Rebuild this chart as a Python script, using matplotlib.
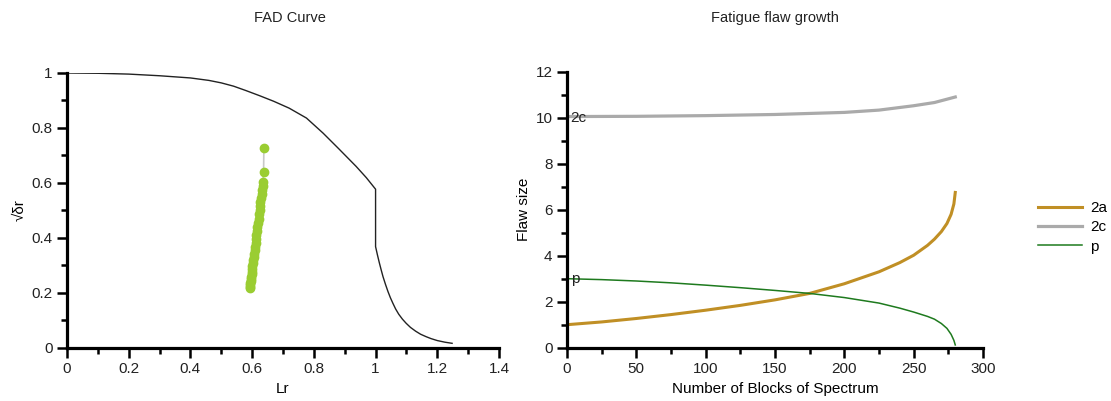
import matplotlib
matplotlib.use("Agg")
import matplotlib.pyplot as plt
from matplotlib.ticker import MultipleLocator

plt.rcParams['font.family'] = ['Liberation Sans', 'DejaVu Sans']

# FAD curve
fad_lr = [0, 0.1, 0.2, 0.3, 0.4, 0.46, 0.5, 0.54, 0.58, 0.625, 0.67, 0.72, 0.776, 0.83, 0.88, 0.937, 0.97, 1.0,
          1.0, 1.006, 1.012, 1.018, 1.024, 1.032, 1.04, 1.048, 1.056, 1.065, 1.075, 1.087, 1.099, 1.113,
          1.13, 1.146, 1.164, 1.18, 1.2, 1.225, 1.248]
fad_kr = [1.0, 0.999, 0.996, 0.99, 0.982, 0.973, 0.964, 0.952, 0.936, 0.917, 0.897, 0.872, 0.836, 0.781,
          0.725, 0.660, 0.619, 0.577,
          0.368, 0.338, 0.31, 0.284, 0.259, 0.231, 0.205, 0.182, 0.162, 0.141, 0.122, 0.104, 0.089, 0.074,
          0.06, 0.049, 0.040, 0.033, 0.026, 0.020, 0.016]

# assessment points
pt_lr = [0.592, 0.593, 0.593, 0.594, 0.595, 0.596, 0.597, 0.598, 0.599, 0.600, 0.601, 0.602,
         0.604, 0.605, 0.606, 0.608, 0.609, 0.611, 0.612, 0.614, 0.616, 0.617, 0.619, 0.621,
         0.622, 0.624, 0.626, 0.627, 0.629, 0.631, 0.632, 0.634, 0.635, 0.637, 0.638]
pt_kr = [0.216, 0.222, 0.228, 0.235, 0.242, 0.25, 0.258, 0.267, 0.276, 0.286, 0.296, 0.307,
         0.318, 0.33, 0.342, 0.355, 0.368, 0.382, 0.396, 0.41, 0.425, 0.44, 0.455, 0.47,
         0.485, 0.5, 0.515, 0.53, 0.545, 0.56, 0.575, 0.59, 0.605, 0.638, 0.727]

# fatigue flaw growth
blocks_a = [0, 25, 50, 75, 100, 125, 150, 175, 200, 225, 240, 250, 260, 265, 270, 274, 277, 279, 280]
size_2a = [1.0, 1.12, 1.27, 1.44, 1.63, 1.84, 2.08, 2.36, 2.78, 3.30, 3.70, 4.02, 4.45, 4.72, 5.05,
           5.40, 5.80, 6.25, 6.75]
blocks_c = [0, 50, 100, 150, 200, 225, 250, 265, 280]
size_2c = [10.05, 10.06, 10.09, 10.14, 10.23, 10.33, 10.52, 10.66, 10.9]
blocks_p = [0, 25, 50, 75, 100, 125, 150, 175, 200, 225, 240, 250, 260, 265, 270, 274, 277, 279, 280]
size_p = [3.0, 2.96, 2.90, 2.82, 2.72, 2.61, 2.49, 2.36, 2.18, 1.94, 1.72, 1.55, 1.36, 1.24, 1.05,
          0.84, 0.58, 0.32, 0.12]

W, H = 1111, 401
fig = plt.figure(figsize=(W / 100, H / 100), dpi=100)
FS = 11


def box(x0, x1, ytop, ybot):
    return [x0 / W, 1 - ybot / H, (x1 - x0) / W, (ybot - ytop) / H]


def style(ax):
    for s in ['top', 'right']:
        ax.spines[s].set_visible(False)
    for s in ['left', 'bottom']:
        ax.spines[s].set_linewidth(2.3)
    ax.tick_params(which='major', length=7.5, width=1.8, labelsize=FS, pad=3, colors='black')
    ax.tick_params(which='minor', length=4.5, width=1.8)
    for lab in ax.get_xticklabels() + ax.get_yticklabels():
        lab.set_color('#222222')


ax1 = fig.add_axes(box(67, 499, 73, 347.7))
ax1.plot(fad_lr, fad_kr, color='#222222', lw=1.0)
ax1.plot(pt_lr, pt_kr, color='#c8c8c8', lw=1.2, zorder=2)
ax1.plot(pt_lr, pt_kr, 'o', color='#9acd32', ms=6, mec='#9acd32', lw=0, zorder=3)
ax1.set_xlim(0, 1.4)
ax1.set_ylim(0, 1)
ax1.xaxis.set_minor_locator(MultipleLocator(0.1))
ax1.yaxis.set_minor_locator(MultipleLocator(0.1))
ax1.set_xticks([0, 0.2, 0.4, 0.6, 0.8, 1.0, 1.2, 1.4])
ax1.set_xticklabels(['0', '0.2', '0.4', '0.6', '0.8', '1', '1.2', '1.4'])
ax1.set_yticks([0, 0.2, 0.4, 0.6, 0.8, 1.0])
ax1.set_yticklabels(['0', '0.2', '0.4', '0.6', '0.8', '1'])
ax1.set_xlabel('Lr', fontsize=FS, labelpad=4)
ax1.set_ylabel('√δr', fontsize=FS, labelpad=3)
style(ax1)

ax2 = fig.add_axes(box(567, 983, 71.7, 347.7))
l1, = ax2.plot(blocks_a, size_2a, color='#c08f25', lw=2.2, label='2a')
l2, = ax2.plot(blocks_c, size_2c, color='#aaaaaa', lw=2.3, label='2c')
l3, = ax2.plot(blocks_p, size_p, color='#1e7a1e', lw=1.1, label='p')
ax2.set_xlim(0, 300)
ax2.set_ylim(0, 12)
ax2.xaxis.set_major_locator(MultipleLocator(50))
ax2.xaxis.set_minor_locator(MultipleLocator(25))
ax2.yaxis.set_major_locator(MultipleLocator(2))
ax2.yaxis.set_minor_locator(MultipleLocator(1))
ax2.set_xlabel('Number of Blocks of Spectrum', fontsize=FS, labelpad=4)
ax2.set_ylabel('Flaw size', fontsize=FS, labelpad=3)
ax2.text(2, 10.0, '2c', fontsize=FS, ha='left', va='center', color='#222222')
ax2.text(3, 3.0, 'p', fontsize=FS, ha='left', va='center', color='#222222')
style(ax2)

fig.text(290 / W, 1 - 18 / H, 'FAD Curve', fontsize=10.5, ha='center', va='center', color='#222222')
fig.text(775 / W, 1 - 18 / H, 'Fatigue flaw growth', fontsize=10.5, ha='center', va='center', color='#222222')

fig.legend(handles=[l1, l2, l3], labels=['2a', '2c', 'p'], loc='upper left',
           bbox_to_anchor=(1038 / W, 1 - 201 / H), frameon=False, fontsize=FS,
           handlelength=2.9, handletextpad=0.5, labelspacing=0.35, borderpad=0, borderaxespad=0)

fig.savefig('out.png', dpi=100)
